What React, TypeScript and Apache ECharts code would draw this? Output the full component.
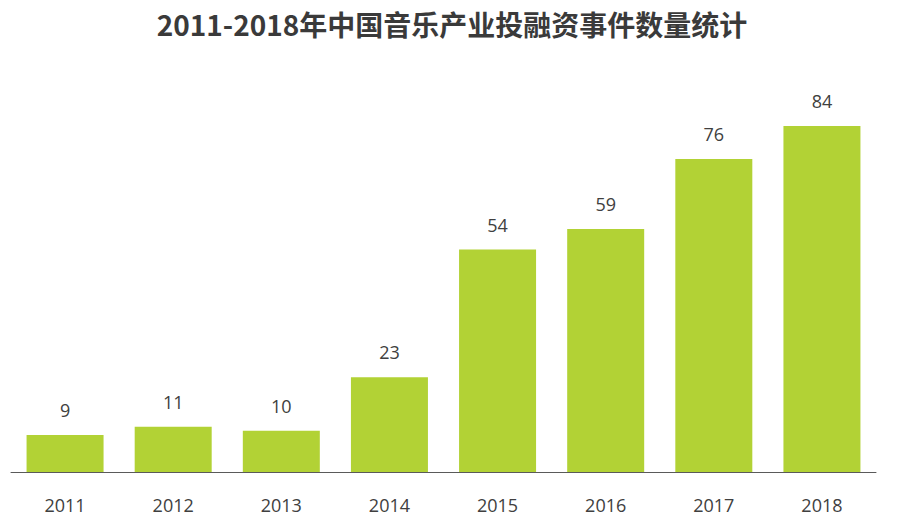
import { useEffect, useRef } from "react";
import * as echarts from "echarts";

const years = ["2011", "2012", "2013", "2014", "2015", "2016", "2017", "2018"];
const counts = [9, 11, 10, 23, 54, 59, 76, 84];
const titleText = "2011-2018年中国音乐产业投融资事件数量统计";

export default function App() {
  const ref = useRef<HTMLDivElement>(null);
  useEffect(() => {
    document.body.style.margin = "0";
    if (!ref.current) return;
    const chart = echarts.init(ref.current, undefined, { renderer: "svg" });
    const titleFont = '"Noto Sans CJK SC", "Noto Sans", sans-serif';
    const numFont = '"Open Sans", "Noto Sans", sans-serif';
    chart.setOption({
      animation: false,
      backgroundColor: "#ffffff",
      title: {
        text: titleText,
        left: "center",
        top: 5,
        textStyle: { fontFamily: titleFont, fontSize: 28, fontWeight: "bold", color: "#3a3a3a" },
      },
      grid: { left: 11, right: 28, top: 60, bottom: 59, containLabel: false },
      xAxis: {
        type: "category",
        data: years,
        axisLine: { lineStyle: { color: "#5a5a5a", width: 1 } },
        axisTick: { show: false },
        axisLabel: { color: "#404040", fontSize: 18, fontFamily: numFont, margin: 24 },
      },
      yAxis: {
        type: "value",
        min: 0,
        max: 100,
        show: false,
        splitLine: { show: false },
      },
      series: [
        {
          type: "bar",
          data: counts,
          barWidth: 77,
          itemStyle: { color: "#b2d235" },
          label: {
            show: true,
            position: "top",
            distance: 16,
            color: "#404040",
            fontSize: 18,
            fontFamily: numFont,
          },
        },
      ],
    } as echarts.EChartsOption);
    return () => chart.dispose();
  }, []);
  return <div ref={ref} style={{ width: 904, height: 531 }} />;
}
